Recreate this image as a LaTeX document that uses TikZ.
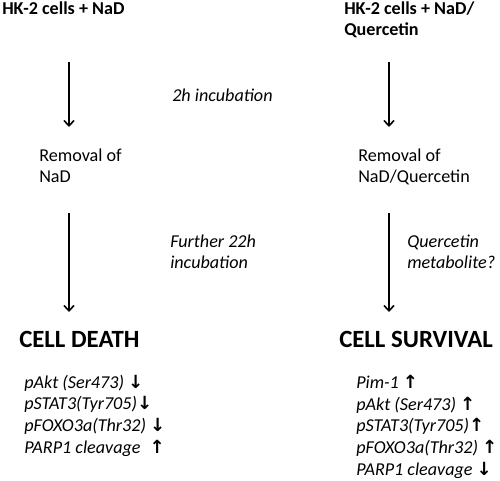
\documentclass[tikz,border=0pt]{standalone}
\usepackage{fontspec}
\setmainfont{Carlito}
\newfontfamily\arrowfont{DejaVu Sans}
\usetikzlibrary{arrows.meta}
\newcommand\incr{{\arrowfont\bfseries ↑}}
\newcommand\decr{{\arrowfont\bfseries ↓}}

\begin{document}
\begin{tikzpicture}[x=0.75pt,y=-0.75pt,>={Straight Barb[length=4pt,width=7.5pt]},
		every node/.style={inner sep=0pt, align=left, anchor=base west},
		stage/.style={font=\fontsize{13.6}{15.75}\selectfont},
		start/.style={font=\bfseries\fontsize{13.6}{15.75}\selectfont},
		note/.style={font=\itshape\fontsize{13.6}{15.75}\selectfont},
		outcome/.style={font=\bfseries\fontsize{18.6}{21}\selectfont},
		marker/.style={font=\itshape\fontsize{13.6}{16.2}\selectfont},
		flow/.style={->, line width=1.2pt}]
		\useasboundingbox (0,0) rectangle (500,481);
		
		% starting conditions (multi-line nodes sit on their last line)
		\node[start] (startL) at (2,15) {HK-2 cells + NaD};
		\node[start] (startR) at (344,36) {HK-2 cells + NaD/\\Quercetin};
		
		% removal step
		\node[stage] (removalL) at (39,183) {Removal of\\NaD};
		\node[stage] (removalR) at (358,183) {Removal of\\NaD/Quercetin};
		
		% outcomes
		\node[outcome] (death) at (19,347) {CELL DEATH};
		\node[outcome] (survival) at (339,347) {CELL SURVIVAL};
		
		% arrows
		\coordinate (l1) at (69,62);  \coordinate (l2) at (69,127);
		\coordinate (l3) at (69,213); \coordinate (l4) at (69,312);
		\coordinate (r1) at (389,62);  \coordinate (r2) at (389,127);
		\coordinate (r3) at (389,213); \coordinate (r4) at (389,312);
		\draw[flow] (l1) -- (l2);
		\draw[flow] (l3) -- (l4);
		\draw[flow] (r1) -- (r2);
		\draw[flow] (r3) -- (r4);
		
		% incubation notes
		\node[note] (incub1) at (172,102) {2h incubation};
		\node[note] (incub2) at (170,268) {Further 22h\\incubation};
		\node[note] (metab) at (407,268) {Quercetin\\metabolite?};
		
		% markers
		\node[marker] (markL) at (24,453) {pAkt (Ser473) \decr\\pSTAT3(Tyr705)\decr\\pFOXO3a(Thr32) \decr\\PARP1 cleavage\enspace\incr};
		\node[marker] (markR) at (356,475) {Pim-1 \incr\\pAkt (Ser473) \incr\\pSTAT3(Tyr705)\incr\\pFOXO3a(Thr32) \incr\\PARP1 cleavage \decr};
	\end{tikzpicture}
\end{document}
